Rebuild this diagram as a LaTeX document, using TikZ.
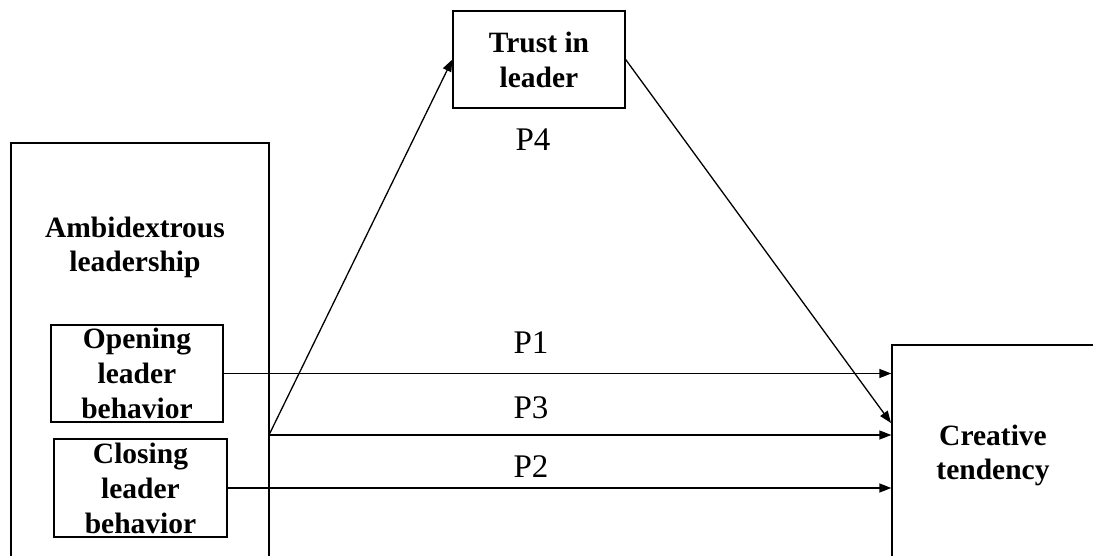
\documentclass[tikz,border=0pt]{standalone}
\usepackage{fontspec}
\setmainfont{Liberation Serif}
\usetikzlibrary{arrows.meta}

\begin{document}
\begin{tikzpicture}[x=1pt, y=-1pt,
  bx/.style={draw, line width=1.3pt, inner sep=1pt, align=center,
             font=\fontsize{29.5}{35}\selectfont\bfseries},
  txt/.style={align=center, inner sep=0pt,
              font=\fontsize{29.5}{34}\selectfont\bfseries},
  lbl/.style={anchor=base, inner sep=0pt, font=\fontsize{33}{38}\selectfont},
  fl/.style={-{Triangle[length=12pt,width=9pt]}, line width=1.3pt}
]
\useasboundingbox (0,0) rectangle (1093,556);
\clip (0,0) rectangle (1093,556);

% predictor block
\node[bx, minimum width=258pt, minimum height=440pt] (amb) at (140,363) {};
\node[txt] (ambtxt) at (135,247) {Ambidextrous\\leadership};
\node[bx, minimum width=172pt, minimum height=97pt] (open) at (137,373.5) {Opening\\leader\\behavior};
\node[bx, minimum width=173pt, minimum height=98pt] (close) at (140.5,488) {Closing\\leader\\behavior};

% mediator and outcome
\node[bx, minimum width=172pt, minimum height=97pt] (trust) at (539,59.5) {Trust in\\leader};
\node[bx, minimum width=240pt, minimum height=240pt] (cre) at (1012,465) {};
\node[txt] (cretxt) at (993,455) {Creative\\tendency};

\coordinate (fork) at (269,435);
\coordinate (hit) at (891,423);

\draw[fl] (open.east) -- (open.east -| cre.west);
\draw[fl] (fork) -- (fork -| cre.west);
\draw[fl] (close.east) -- (close.east -| cre.west);
\draw[fl] (fork) -- (trust.west);
\draw[fl] (trust.east) -- (hit);

\node[lbl] (p4) at (533,151) {P4};
\node[lbl] (p1) at (531,353) {P1};
\node[lbl] (p3) at (531,418) {P3};
\node[lbl] (p2) at (531,477) {P2};
\end{tikzpicture}
\end{document}
